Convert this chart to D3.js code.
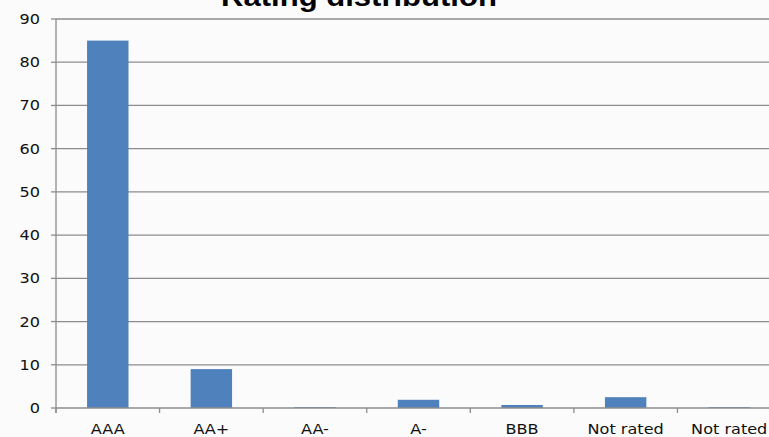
<!DOCTYPE html>
<html>
<head>
<meta charset="utf-8">
<script src="https://cdn.jsdelivr.net/npm/d3@7"></script>
<style>
  html, body { margin: 0; padding: 0; background: #fbfbfb; }
  svg { display: block; }
</style>
</head>
<body>
<svg id="chart" width="769" height="437"></svg>
<script>
// Rating distribution (share of holdings, %)
const categories = ["AAA", "AA+", "AA-", "A-", "BBB", "Not rated", "Not rated"];
const values = [85, 9, 0.2, 1.9, 0.7, 2.5, 0.2];
const yTicks = [0, 10, 20, 30, 40, 50, 60, 70, 80, 90];
const title = "Rating distribution";

const svg = d3.select("#chart");
const W = 769, H = 437;
const margin = { left: 56, top: 19, bottom: 408, right: 781 };
const stretch = 1.15;

svg.append("rect").attr("width", W).attr("height", H).attr("fill", "#fbfbfb");

const x = d3.scaleBand()
  .domain(d3.range(categories.length))
  .range([margin.left, margin.right])
  .paddingInner(0).paddingOuter(0);

const y = d3.scaleLinear().domain([0, 90]).range([margin.bottom, margin.top]);

// horizontal gridlines
svg.append("g").selectAll("line")
  .data(yTicks.filter(t => t > 0))
  .join("line")
  .attr("x1", margin.left).attr("x2", margin.right)
  .attr("y1", d => y(d)).attr("y2", d => y(d))
  .attr("stroke", "#8c8c8c").attr("stroke-width", 1.3);

// bars
const barW = x.bandwidth() * 0.4;
svg.append("g").selectAll("rect")
  .data(values)
  .join("rect")
  .attr("x", (d, i) => x(i) + (x.bandwidth() - barW) / 2)
  .attr("width", barW)
  .attr("y", d => y(d))
  .attr("height", d => y(0) - y(d))
  .attr("fill", "#4f81bd");

// y axis line and ticks
svg.append("line")
  .attr("x1", margin.left).attr("x2", margin.left)
  .attr("y1", y(90)).attr("y2", y(0) + 5)
  .attr("stroke", "#8c8c8c").attr("stroke-width", 1.3);
svg.append("g").selectAll("line")
  .data(yTicks)
  .join("line")
  .attr("x1", margin.left - 5).attr("x2", margin.left)
  .attr("y1", d => y(d)).attr("y2", d => y(d))
  .attr("stroke", "#8c8c8c").attr("stroke-width", 1.3);

// x axis line and ticks at band boundaries
svg.append("line")
  .attr("x1", margin.left).attr("x2", margin.right)
  .attr("y1", y(0)).attr("y2", y(0))
  .attr("stroke", "#8c8c8c").attr("stroke-width", 1.3);
svg.append("g").selectAll("line")
  .data(d3.range(categories.length + 1))
  .join("line")
  .attr("x1", i => margin.left + i * x.bandwidth())
  .attr("x2", i => margin.left + i * x.bandwidth())
  .attr("y1", y(0)).attr("y2", y(0) + 5)
  .attr("stroke", "#8c8c8c").attr("stroke-width", 1.3);

const font = "'DejaVu Sans', Verdana, sans-serif";

// y tick labels
svg.append("g").selectAll("text")
  .data(yTicks)
  .join("text")
  .attr("transform", d => `translate(40,${y(d)}) scale(${stretch},1)`)
  .attr("dy", "0.36em")
  .attr("text-anchor", "end")
  .attr("font-family", font).attr("font-size", 14)
  .attr("fill", "#111")
  .text(d => d);

// x category labels
svg.append("g").selectAll("text")
  .data(categories)
  .join("text")
  .attr("transform", (d, i) => `translate(${x(i) + x.bandwidth() / 2},434) scale(${stretch},1)`)
  .attr("text-anchor", "middle")
  .attr("font-family", font).attr("font-size", 14)
  .attr("fill", "#111")
  .text(d => d);

// title
svg.append("text")
  .attr("transform", `translate(359,5.5) scale(${stretch},1)`)
  .attr("text-anchor", "middle")
  .attr("font-family", "'Liberation Sans', Arial, sans-serif")
  .attr("font-weight", "bold")
  .attr("font-size", 27)
  .attr("fill", "#000")
  .text(title);
</script>
</body>
</html>
